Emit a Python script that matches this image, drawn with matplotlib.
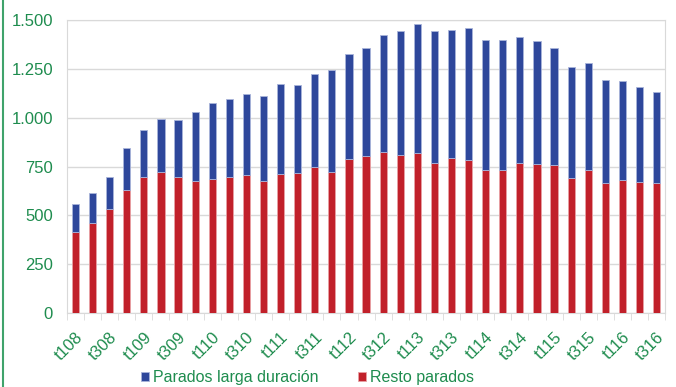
import numpy as np
import matplotlib.pyplot as plt
from matplotlib.lines import Line2D
from matplotlib.ticker import FuncFormatter

# trimestres t108 .. t316
trimestres = [f"t{q}{y:02d}" for y in range(8, 17) for q in range(1, 5)][:35]
total = [558, 614, 696, 845, 937, 993, 988, 1029, 1075, 1096, 1121, 1111,
         1172, 1168, 1224, 1244, 1326, 1357, 1423, 1444, 1480, 1444, 1449,
         1459, 1398, 1396, 1413, 1392, 1357, 1259, 1280, 1193, 1188, 1157, 1131]
resto = [415, 461, 532, 630, 696, 722, 696, 676, 686, 696, 706, 676,
         712, 717, 748, 722, 788, 804, 824, 809, 819, 768, 794,
         783, 732, 732, 768, 763, 758, 691, 732, 666, 681, 671, 666]
larga = [t - r for t, r in zip(total, resto)]

azul = '#2E479B'
rojo = '#C1202A'
verde = '#1E8C4E'

plt.rcParams['font.family'] = ['Liberation Sans', 'DejaVu Sans']

fig = plt.figure(figsize=(6.76, 3.87), dpi=100)
ax = fig.add_axes([0.099, 0.191, 0.885, 0.757])

x = np.arange(len(trimestres))
ax.bar(x, resto, width=0.42, color=rojo, edgecolor='#E8A0A4', linewidth=0.6,
       label='Resto parados', zorder=3)
ax.bar(x, larga, bottom=resto, width=0.42, color=azul, edgecolor='#A9B4DA',
       linewidth=0.6, label='Parados larga duración', zorder=3)

ax.set_xlim(-0.5, len(trimestres) - 0.5)
ax.set_ylim(0, 1500)
ax.set_yticks(np.arange(0, 1501, 250))
ax.yaxis.set_major_formatter(FuncFormatter(lambda v, p: f"{int(v):,}".replace(',', '.')))
ax.grid(axis='y', color='#D9D9D9', linewidth=1, zorder=0)

ax.set_xticks(x[::2])
ax.set_xticklabels(trimestres[::2], rotation=45, ha='right', rotation_mode='anchor')
ax.set_xticks(np.arange(-0.5, len(trimestres), 1), minor=True)
ax.tick_params(axis='x', which='major', length=0, pad=12, labelsize=12, labelcolor=verde)
ax.tick_params(axis='x', which='minor', length=5, color='#D9D9D9')
ax.tick_params(axis='y', length=0, labelsize=12, labelcolor=verde, pad=10)

for s in ax.spines.values():
    s.set_color('#D9D9D9')

h, l = ax.get_legend_handles_labels()
fig.legend(h[::-1], l[::-1], loc='lower left', bbox_to_anchor=(0.187, -0.033), ncol=2,
           frameon=False, fontsize=11.5, labelcolor=verde, handlelength=0.5,
           handleheight=0.5, handletextpad=0.25, columnspacing=2.5)

fig.add_artist(Line2D([0.004, 0.004], [0, 1], transform=fig.transFigure,
                      color='#3FA36B', linewidth=1.5))

fig.savefig('out.png', dpi=100)
